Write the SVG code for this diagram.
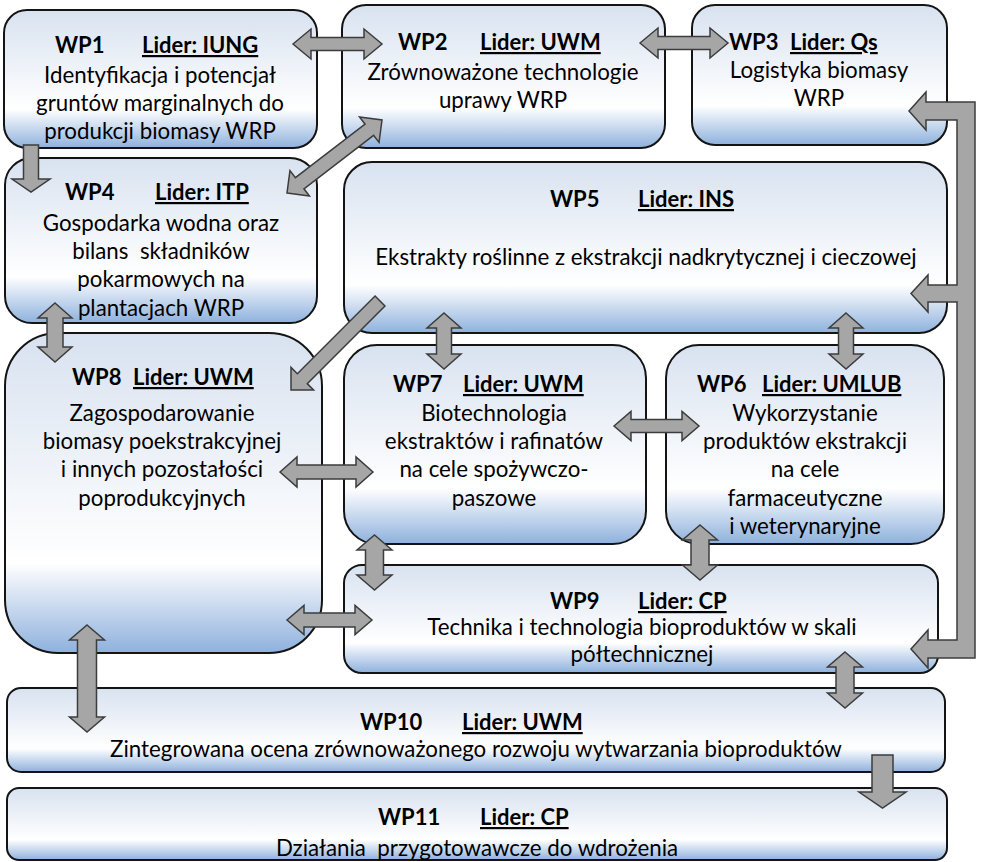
<svg xmlns="http://www.w3.org/2000/svg" width="982" height="862" viewBox="0 0 982 862">
<defs>
<linearGradient id="boxfill" x1="0" y1="0" x2="0" y2="1">
<stop offset="0" stop-color="#d8e2f0"/>
<stop offset="0.72" stop-color="#ffffff"/>
<stop offset="1" stop-color="#8eb1dd"/>
</linearGradient>
<style>
.box{fill:url(#boxfill);stroke:#141414;stroke-width:2}
.t{font-family:Lato,"Liberation Sans",sans-serif;font-size:22.3px;fill:#000}
.c{text-anchor:middle}
.h{font-family:Lato,"Liberation Sans",sans-serif;font-size:22px;font-weight:bold;fill:#000}
.u{text-decoration:underline}
.arr{fill:#a6a6a6;stroke:#3c3c3c;stroke-width:1.5;stroke-linejoin:miter}
</style>
</defs>
<rect width="982" height="862" fill="#ffffff"/>

<g id="wp1">
<rect class="box" x="4" y="10" width="313" height="138" rx="23"/>
<text class="h" x="55" y="53">WP1</text>
<text class="h u" x="142" y="53">Lider: IUNG</text>
<text class="t c" x="160" y="83">Identyfikacja i potencjał</text>
<text class="t c" x="160" y="111">gruntów marginalnych do</text>
<text class="t c" x="160" y="139">produkcji biomasy WRP</text>
</g>
<g id="wp2">
<rect class="box" x="342" y="5" width="323" height="143" rx="24"/>
<text class="h" x="398" y="50">WP2</text>
<text class="h u" x="480" y="50">Lider: UWM</text>
<text class="t c" x="503" y="80">Zrównoważone technologie</text>
<text class="t c" x="503" y="108">uprawy WRP</text>
</g>
<g id="wp3">
<rect class="box" x="692" y="5" width="255" height="140" rx="23"/>
<text class="h" x="729" y="50">WP3</text>
<text class="h u" x="790" y="50">Lider: Qs</text>
<text class="t c" x="819" y="78">Logistyka biomasy</text>
<text class="t c" x="819" y="106">WRP</text>
</g>
<g id="wp4">
<rect class="box" x="5" y="158" width="312" height="165" rx="27"/>
<text class="h" x="65" y="200">WP4</text>
<text class="h u" x="155" y="200">Lider: ITP</text>
<text class="t c" x="161" y="231">Gospodarka wodna oraz</text>
<text class="t c" x="161" y="259" style="white-space:pre">bilans  składników</text>
<text class="t c" x="161" y="287">pokarmowych na</text>
<text class="t c" x="161" y="316">plantacjach WRP</text>
</g>
<g id="wp5">
<rect class="box" x="344" y="162" width="603" height="171" rx="28"/>
<text class="h" x="550" y="207">WP5</text>
<text class="h u" x="638" y="207">Lider: INS</text>
<text class="t c" x="646" y="265">Ekstrakty roślinne z ekstrakcji nadkrytycznej i cieczowej</text>
</g>
<g id="wp8">
<rect class="box" x="5" y="333" width="317" height="320" rx="53"/>
<text class="h" x="72" y="385">WP8</text>
<text class="h u" x="133" y="385">Lider: UWM</text>
<text class="t c" x="162" y="421">Zagospodarowanie</text>
<text class="t c" x="162" y="449">biomasy poekstrakcyjnej</text>
<text class="t c" x="162" y="477">i innych pozostałości</text>
<text class="t c" x="162" y="506">poprodukcyjnych</text>
</g>
<g id="wp7">
<rect class="box" x="344" y="345" width="302" height="199" rx="33"/>
<text class="h" x="393" y="392">WP7</text>
<text class="h u" x="463" y="392">Lider: UWM</text>
<text class="t c" x="494" y="421">Biotechnologia</text>
<text class="t c" x="494" y="449">ekstraktów i rafinatów</text>
<text class="t c" x="494" y="477">na cele spożywczo-</text>
<text class="t c" x="494" y="506">paszowe</text>
</g>
<g id="wp6">
<rect class="box" x="666" y="345" width="278" height="199" rx="33"/>
<text class="h" x="697" y="392">WP6</text>
<text class="h u" x="762" y="392">Lider: UMLUB</text>
<text class="t c" x="805" y="421">Wykorzystanie</text>
<text class="t c" x="805" y="449">produktów ekstrakcji</text>
<text class="t c" x="805" y="477">na cele</text>
<text class="t c" x="805" y="506">farmaceutyczne</text>
<text class="t c" x="805" y="534">i weterynaryjne</text>
</g>
<g id="wp9">
<rect class="box" x="344" y="565" width="594" height="108" rx="18"/>
<text class="h" x="550" y="609">WP9</text>
<text class="h u" x="638" y="609">Lider: CP</text>
<text class="t c" x="642" y="635">Technika i technologia bioproduktów w skali</text>
<text class="t c" x="642" y="662">półtechnicznej</text>
</g>
<g id="wp10">
<rect class="box" x="7" y="688" width="938" height="84" rx="14"/>
<text class="h" x="360" y="730">WP10</text>
<text class="h u" x="462" y="730">Lider: UWM</text>
<text class="t c" x="476" y="757">Zintegrowana ocena zrównoważonego rozwoju wytwarzania bioproduktów</text>
</g>
<g id="wp11">
<rect class="box" x="7" y="788" width="940" height="72" rx="12"/>
<text class="h" x="378" y="825">WP11</text>
<text class="h u" x="480" y="825">Lider: CP</text>
<text class="t c" x="477" y="856" style="white-space:pre">Działania  przygotowawcze do wdrożenia</text>
</g>

<g id="connectors">
<polygon class="arr" points="293,44 311,29 311,37.5 364,37.5 364,29 382,44 364,59 364,50.5 311,50.5 311,59"/>
<polygon class="arr" points="640,43 658,28 658,36.5 710,36.5 710,28 728,43 710,58 710,49.5 658,49.5 658,58"/>
<polygon class="arr" points="614,426 631,411.5 631,419.5 682,419.5 682,411.5 699,426 682,440.5 682,432.5 631,432.5 631,440.5"/>
<polygon class="arr" points="280,472 297,457 297,465 356,465 356,457 373,472 356,487 356,479 297,479 297,487"/>
<polygon class="arr" points="287,620 304,605.5 304,613 355,613 355,605.5 372,620 355,634.5 355,627 304,627 304,634.5"/>
<polygon class="arr" points="55,303 72,318 63,318 63,347 72,347 55,362 38,347 47,347 47,318 38,318"/>
<polygon class="arr" points="444,313 461,328 451.5,328 451.5,354 461,354 444,369 427,354 436.5,354 436.5,328 427,328"/>
<polygon class="arr" points="846,313 863,328 853.5,328 853.5,354 863,354 846,369 829,354 838.5,354 838.5,328 829,328"/>
<polygon class="arr" points="374.5,535 392,550 383.5,550 383.5,575 392,575 374.5,590 357,575 365.5,575 365.5,550 357,550"/>
<polygon class="arr" points="700,525 717.5,540 709,540 709,565 717.5,565 700,580 682.5,565 691,565 691,540 682.5,540"/>
<polygon class="arr" points="87,625 104.5,640 96.5,640 96.5,717 104.5,717 87,732 69.5,717 77.5,717 77.5,640 69.5,640"/>
<polygon class="arr" points="845,652 862.5,667 854,667 854,693 862.5,693 845,708 827.5,693 836,693 836,667 827.5,667"/>
<polygon class="arr" points="23.5,145 38.5,145 38.5,179 50,179 31,192 12,179 23.5,179"/>
<polygon class="arr" points="872,755 893,755 893,792 906,792 882.5,808 859,792 872,792"/>
<polygon class="arr" points="375.05,296.05 384.95,305.95 307.25,383.65 313.6,390 291,390 291,367.4 297.35,373.75"/>
<polygon class="arr" points="287,193 309.43,195.94 303.95,188.8 373.57,135.3 379.05,142.44 382,120 359.57,117.06 365.05,124.2 295.43,177.7 289.95,170.56"/>
<polygon class="arr" points="975,102 975,658 928,658 928,668 911,649 928,630 928,640 957,640 957,302 928,302 928,312 911,293.5 928,275 928,285 957,285 957,120 926,120 926,130 909,111 926,92 926,102"/>
</g>
</svg>
